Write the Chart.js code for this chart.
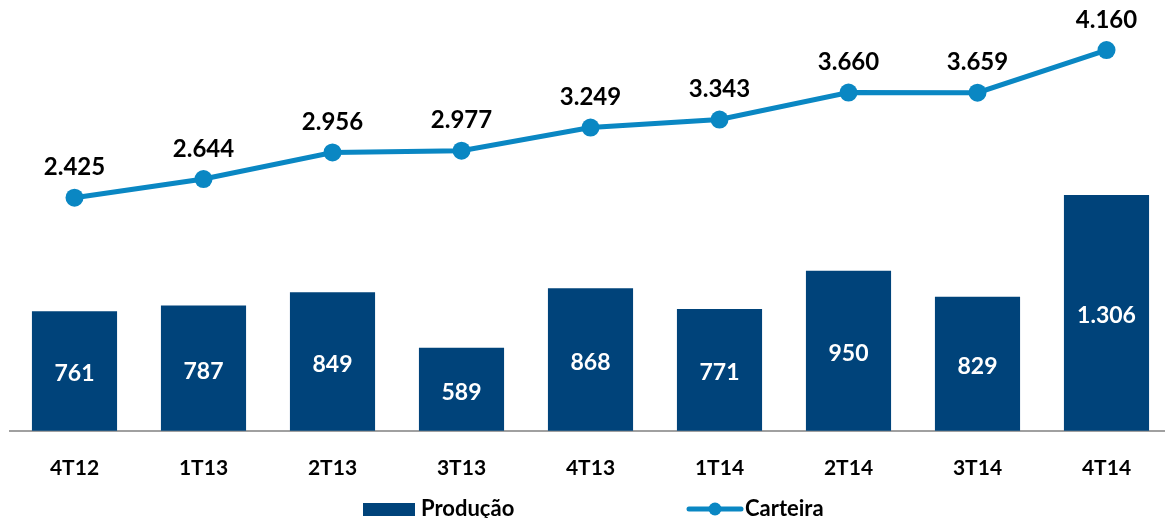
<!DOCTYPE html>
<html>
<head>
<meta charset="utf-8">
<script src="https://cdn.jsdelivr.net/npm/chart.js@4/dist/chart.umd.min.js"></script>
<style>
  html, body { margin: 0; padding: 0; background: #fff; overflow: hidden; }
  #wrap { width: 1165px; height: 518px; overflow: hidden; position: relative; }
  canvas { display: block; }
</style>
</head>
<body>
<div id="wrap"><canvas id="c" width="1180" height="518"></canvas></div>
<script>
const categories = ['4T12', '1T13', '2T13', '3T13', '4T13', '1T14', '2T14', '3T14', '4T14'];
const producao = [761, 787, 849, 589, 868, 771, 950, 829, 1306];
const carteira = [2425, 2644, 2956, 2977, 3249, 3343, 3660, 3659, 4160];
const seriesNames = ['Produção', 'Carteira'];

const BAR_COLOR = '#00437A';
const LINE_COLOR = '#0A87C3';
const FONT = 'Lato, "Open Sans", sans-serif';

function fmt(v) {
  return v.toString().replace(/\B(?=(\d{3})+(?!\d))/g, '.');
}

const labelsPlugin = {
  id: 'valueLabels',
  afterDatasetsDraw(chart) {
    const ctx = chart.ctx;
    ctx.save();
    ctx.textAlign = 'center';
    ctx.textBaseline = 'middle';
    const bottom = chart.chartArea.bottom;
    const barMeta = chart.getDatasetMeta(1);
    ctx.font = 'bold 23px ' + FONT;
    ctx.fillStyle = '#ffffff';
    barMeta.data.forEach((el, i) => {
      const y = (el.y + bottom) / 2 + 3;
      ctx.fillText(fmt(producao[i]), el.x, y);
    });
    const lineMeta = chart.getDatasetMeta(0);
    ctx.font = 'bold 24px ' + FONT;
    ctx.fillStyle = '#000000';
    lineMeta.data.forEach((el, i) => {
      ctx.fillText(fmt(carteira[i]), el.x, el.y - 30);
    });
    ctx.restore();
  }
};

const legendPlugin = {
  id: 'customLegend',
  afterDraw(chart) {
    const ctx = chart.ctx;
    ctx.save();
    const y = 509;
    ctx.fillStyle = BAR_COLOR;
    ctx.fillRect(363, 503, 52, 13);
    ctx.font = 'bold 22px ' + FONT;
    ctx.fillStyle = '#000';
    ctx.textAlign = 'left';
    ctx.textBaseline = 'middle';
    ctx.fillText(seriesNames[0], 421, y);
    ctx.strokeStyle = LINE_COLOR;
    ctx.lineWidth = 5;
    ctx.lineCap = 'round';
    ctx.beginPath();
    ctx.moveTo(689, y);
    ctx.lineTo(741, y);
    ctx.stroke();
    ctx.fillStyle = LINE_COLOR;
    ctx.beginPath();
    ctx.arc(715, y, 6.5, 0, Math.PI * 2);
    ctx.fill();
    ctx.fillStyle = '#000';
    ctx.fillText(seriesNames[1], 745, y);
    ctx.restore();
  }
};

new Chart(document.getElementById('c'), {
  data: {
    labels: categories,
    datasets: [
      {
        type: 'line',
        label: seriesNames[1],
        data: carteira,
        yAxisID: 'yLine',
        borderColor: LINE_COLOR,
        backgroundColor: LINE_COLOR,
        borderWidth: 5,
        pointRadius: 9,
        pointBorderWidth: 0,
        pointBackgroundColor: LINE_COLOR,
        tension: 0,
        clip: false,
        order: 0
      },
      {
        type: 'bar',
        label: seriesNames[0],
        data: producao,
        yAxisID: 'yBar',
        backgroundColor: BAR_COLOR,
        borderWidth: 0,
        categoryPercentage: 1,
        barPercentage: 0.66,
        order: 1
      }
    ]
  },
  options: {
    responsive: false,
    animation: false,
    layout: { padding: { left: 10, right: 8, top: 30, bottom: 12 } },
    plugins: {
      legend: { display: false },
      tooltip: { enabled: false }
    },
    scales: {
      x: {
        grid: { display: false, drawTicks: false },
        border: { display: true, color: '#A0A0A0', width: 2 },
        ticks: {
          color: '#000',
          font: { family: FONT, weight: 'bold', size: 21 },
          padding: 25,
          maxRotation: 0
        }
      },
      yBar: {
        display: false,
        min: 200,
        max: 2079,
        position: 'left'
      },
      yLine: {
        display: false,
        min: -316,
        max: 4396,
        position: 'right'
      }
    }
  },
  plugins: [labelsPlugin, legendPlugin]
});
</script>
</body>
</html>
